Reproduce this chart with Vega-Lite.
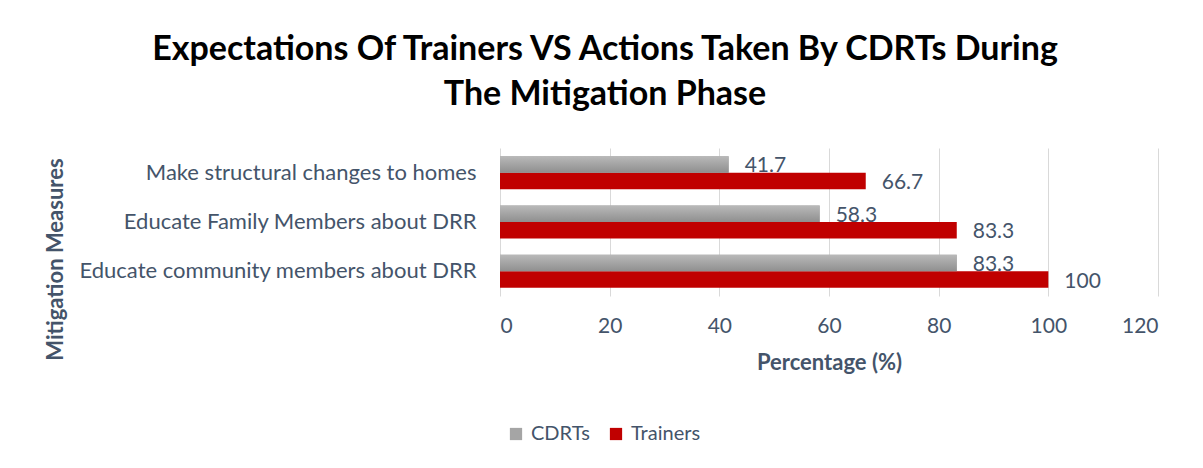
{
  "$schema": "https://vega.github.io/schema/vega-lite/v6.json",
  "autosize": "none",
  "width": 658,
  "height": 148,
  "padding": {"left": 500, "top": 148, "right": 45, "bottom": 172},
  "background": "white",
  "config": {
    "font": "Lato",
    "view": {"stroke": null}
  },
  "title": {
    "text": ["Expectations Of Trainers VS Actions Taken By CDRTs During", "The Mitigation Phase"],
    "fontSize": 34,
    "fontWeight": "bold",
    "color": "#000000",
    "font": "Lato",
    "anchor": "middle",
    "frame": "group",
    "dx": -224,
    "offset": 36,
    "lineHeight": 45
  },
  "data": {
    "values": [
      {"measure": "Make structural changes to homes", "series": "CDRTs", "value": 41.7},
      {"measure": "Make structural changes to homes", "series": "Trainers", "value": 66.7},
      {"measure": "Educate Family Members about DRR", "series": "CDRTs", "value": 58.3},
      {"measure": "Educate Family Members about DRR", "series": "Trainers", "value": 83.3},
      {"measure": "Educate community members about DRR", "series": "CDRTs", "value": 83.3},
      {"measure": "Educate community members about DRR", "series": "Trainers", "value": 100}
    ]
  },
  "encoding": {
    "y": {
      "field": "measure",
      "type": "nominal",
      "sort": ["Make structural changes to homes", "Educate Family Members about DRR", "Educate community members about DRR"],
      "scale": {"paddingInner": 0.33, "paddingOuter": 0.165},
      "axis": {
        "title": "Mitigation Measures",
        "titleFontSize": 22,
        "titleFontWeight": "bold",
        "titleColor": "#44546A",
        "titleX": -445,
        "titleY": 111,
        "titleAngle": -90,
        "titleAlign": "center",
        "titleBaseline": "middle",
        "labelFontSize": 22,
        "labelColor": "#44546A",
        "labelPadding": 24,
        "labelLimit": 500,
        "ticks": false,
        "domain": false,
        "grid": false
      }
    },
    "yOffset": {
      "field": "series",
      "type": "nominal",
      "scale": {"domain": ["CDRTs", "Trainers"], "paddingInner": 0, "paddingOuter": 0}
    },
    "x": {
      "field": "value",
      "type": "quantitative",
      "scale": {"domain": [0, 120]},
      "axis": {
        "values": [0, 20, 40, 60, 80, 100, 120],
        "title": "Percentage (%)",
        "titleFontSize": 22,
        "titleFontWeight": "bold",
        "titleColor": "#44546A",
        "titlePadding": 16,
        "labelFontSize": 21,
        "labelColor": "#44546A",
        "labelPadding": 19,
        "ticks": false,
        "domain": false,
        "grid": true,
        "gridColor": "#D9D9D9",
        "gridWidth": 1
      }
    }
  },
  "layer": [
    {
      "mark": {"type": "text", "align": "left", "baseline": "middle", "dx": 16, "dy": 2, "fontSize": 21, "color": "#44546A"},
      "encoding": {
        "text": {"field": "value", "type": "quantitative", "format": ".1~f"}
      }
    },
    {
      "mark": {"type": "bar"},
      "encoding": {
        "color": {
          "field": "series",
          "type": "nominal",
          "scale": {"domain": ["CDRTs", "Trainers"], "range": ["#A5A5A5", "#C00000"]},
          "legend": {
            "title": null,
            "orient": "none",
            "legendX": 6,
            "legendY": 276,
            "direction": "horizontal",
            "symbolType": "square",
            "symbolSize": 150,
            "symbolStrokeWidth": 0,
            "labelFontSize": 20,
            "labelColor": "#44546A",
            "labelOffset": 5,
            "columnPadding": 16
          }
        }
      }
    },
    {
      "transform": [{"filter": "datum.series === 'CDRTs'"}],
      "mark": {
        "type": "bar",
        "color": {
          "gradient": "linear",
          "x1": 0, "y1": 0, "x2": 0, "y2": 1,
          "stops": [
            {"offset": 0, "color": "#B9B9B9"},
            {"offset": 1, "color": "#8F8F8F"}
          ]
        }
      }
    }
  ]
}
